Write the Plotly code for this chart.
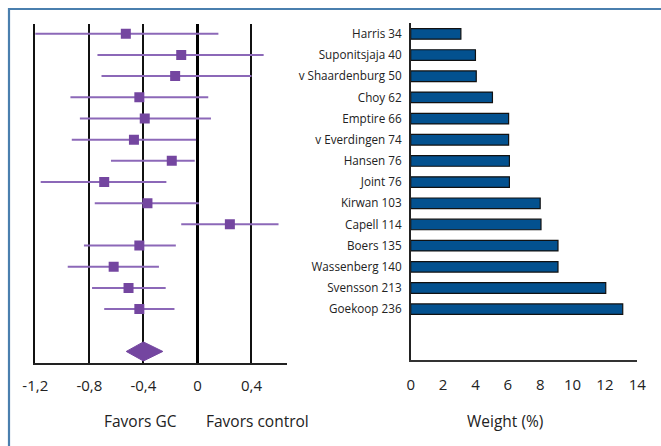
import plotly.graph_objects as go

studies = ["Harris 34", "Suponitsjaja 40", "v Shaardenburg 50", "Choy 62", "Emptire 66",
           "v Everdingen 74", "Hansen 76", "Joint 76", "Kirwan 103", "Capell 114",
           "Boers 135", "Wassenberg 140", "Svensson 213", "Goekoop 236"]
effect = [-0.53, -0.12, -0.165, -0.43, -0.39, -0.47, -0.19, -0.69, -0.37, 0.24,
          -0.43, -0.62, -0.51, -0.43]
ci_low = [-1.21, -0.74, -0.71, -0.94, -0.87, -0.93, -0.64, -1.16, -0.76, -0.12,
          -0.84, -0.96, -0.78, -0.69]
ci_high = [0.155, 0.49, 0.40, 0.08, 0.10, -0.01, -0.02, -0.23, 0.01, 0.60,
           -0.16, -0.285, -0.235, -0.17]
weight = [3.1, 4.0, 4.05, 5.05, 6.05, 6.05, 6.1, 6.1, 8.0, 8.05, 9.1, 9.1, 12.05, 13.1]
pooled = {"est": -0.40, "lo": -0.527, "hi": -0.256}
left_ticks = [-1.2, -0.8, -0.4, 0, 0.4]
left_ticktext = ["-1,2", "-0,8", "-0,4", "0", "0,4"]
right_ticks = [0, 2, 4, 6, 8, 10, 12, 14]

W, H = 661, 446
FONT = "Open Sans"
rows = list(range(1, len(studies) + 1))
pool_row = len(studies) + 2

fig = go.Figure()

# forest plot
fig.add_trace(go.Scatter(
    x=effect, y=rows, mode="markers",
    marker=dict(symbol="square", size=10, color="#7446a0"),
    error_x=dict(type="data", symmetric=False,
                 array=[h - e for h, e in zip(ci_high, effect)],
                 arrayminus=[e - l for e, l in zip(effect, ci_low)],
                 color="#8c68b8", thickness=2, width=0),
    xaxis="x", yaxis="y", showlegend=False, hoverinfo="skip"))

hh = 0.45
fig.add_trace(go.Scatter(
    x=[pooled["lo"], pooled["est"], pooled["hi"], pooled["est"], pooled["lo"]],
    y=[pool_row, pool_row - hh, pool_row, pool_row + hh, pool_row],
    mode="lines", fill="toself", fillcolor="#7446a0",
    line=dict(color="#7446a0", width=1),
    xaxis="x", yaxis="y", showlegend=False, hoverinfo="skip"))

# weight bars
fig.add_trace(go.Bar(
    x=weight, y=rows, orientation="h", width=0.5,
    marker=dict(color="#03518f", line=dict(color="#111111", width=1.2)),
    xaxis="x2", yaxis="y2", showlegend=False, hoverinfo="skip"))

def px_x(p):
    return p / W

def px_y(p):
    return 1 - p / H

BORDER = "#4a7fae"

fig.update_layout(
    width=W, height=H,
    margin=dict(l=0, r=0, t=0, b=0, pad=0, autoexpand=False),
    paper_bgcolor="white", plot_bgcolor="white",
    font=dict(family=FONT, color="#222222"),
    xaxis=dict(domain=[px_x(35.3), px_x(287.3)], range=[-1.2, 0.665],
               tickvals=left_ticks, ticktext=left_ticktext,
               showgrid=True, gridcolor="#111111", gridwidth=2,
               zeroline=True, zerolinecolor="#000000", zerolinewidth=3,
               showline=True, linecolor="#222222", linewidth=1.5,
               ticks="outside", ticklen=8, tickcolor="rgba(0,0,0,0)",
               tickfont=dict(size=15, family=FONT, color="#222222"),
               anchor="y", fixedrange=True),
    yaxis=dict(domain=[px_y(363.3), px_y(24)], range=[16.56, 0.54],
               showgrid=False, zeroline=False, showticklabels=False,
               showline=True, linecolor="#111111", linewidth=2, anchor="x"),
    xaxis2=dict(domain=[px_x(410.7), px_x(637.3)], range=[0, 14],
                tickvals=right_ticks,
                showgrid=False, zeroline=False,
                showline=True, linecolor="#333333", linewidth=1.5,
                ticks="outside", ticklen=10, tickcolor="rgba(0,0,0,0)",
                tickfont=dict(size=15, family=FONT, color="#222222"),
                anchor="y2"),
    yaxis2=dict(domain=[px_y(360), px_y(23.3)], range=[16.4, 0.5],
                tickvals=rows, ticktext=studies,
                showgrid=False, zeroline=False,
                showline=True, linecolor="#222222", linewidth=1.5,
                ticks="outside", ticklen=5, tickcolor="rgba(0,0,0,0)",
                tickfont=dict(size=11.7, family=FONT, color="#222222"),
                anchor="x2"),
    shapes=[
        dict(type="line", xref="paper", yref="paper", x0=px_x(8), x1=1.0,
             y0=px_y(9), y1=px_y(9), layer="above",
             line=dict(color=BORDER, width=2.2)),
        dict(type="line", xref="paper", yref="paper", x0=px_x(9), x1=px_x(9),
             y0=px_y(8), y1=0, layer="above",
             line=dict(color=BORDER, width=2.2)),
    ],
    annotations=[
        dict(text="Favors GC", x=px_x(140), y=px_y(421), xref="paper", yref="paper",
             xanchor="center", yanchor="middle", showarrow=False,
             font=dict(size=15.5, family=FONT, color="#222222")),
        dict(text="Favors control", x=px_x(257), y=px_y(421), xref="paper", yref="paper",
             xanchor="center", yanchor="middle", showarrow=False,
             font=dict(size=15.5, family=FONT, color="#222222")),
        dict(text="Weight (%)", x=px_x(505), y=px_y(421), xref="paper", yref="paper",
             xanchor="center", yanchor="middle", showarrow=False,
             font=dict(size=15.5, family=FONT, color="#222222")),
    ],
)

fig.write_html(
    "out.html",
    config={"displayModeBar": False},
    post_script="document.body.style.margin='0';document.body.style.overflow='hidden';",
)
